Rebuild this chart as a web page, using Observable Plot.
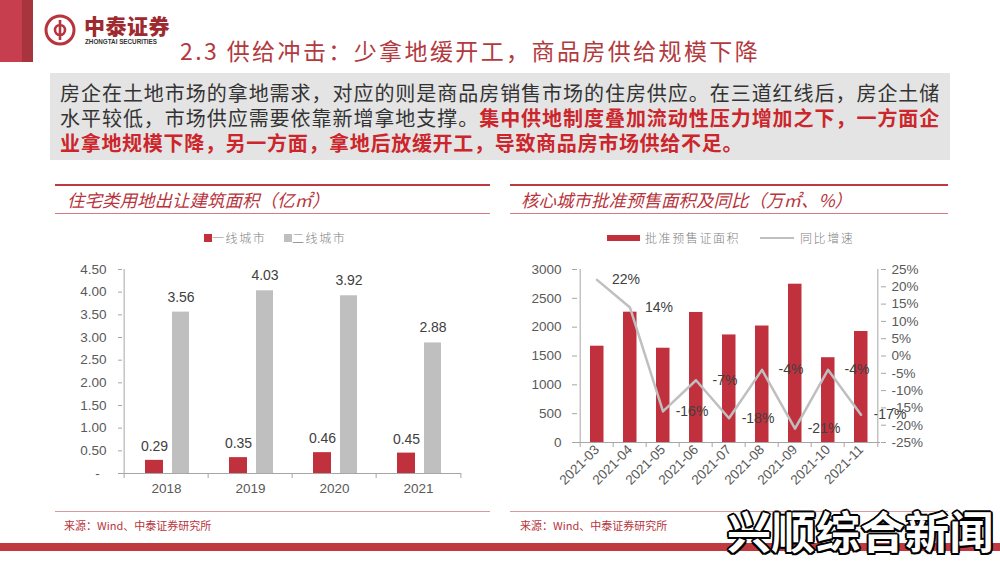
<!DOCTYPE html>
<html><head><meta charset="utf-8">
<script src="https://cdn.jsdelivr.net/npm/d3@7"></script>
<script src="https://cdn.jsdelivr.net/npm/@observablehq/plot@0.6"></script>
<style>
body{margin:0;width:1000px;height:562px;position:relative;overflow:hidden;background:#fff;font-family:"Noto Sans CJK SC",sans-serif;}
.abs{position:absolute;}
.ptitle{position:absolute;font-style:italic;color:#b8343c;font-size:17.5px;line-height:24px;white-space:nowrap;}
.line{position:absolute;}
.leg{position:absolute;font-size:12px;letter-spacing:1.6px;color:#7f7f7f;white-space:nowrap;line-height:16px;font-weight:300;}
.src{position:absolute;font-size:11px;color:#b8343c;white-space:nowrap;line-height:14px;}
.body{position:absolute;left:60px;width:880px;font-size:20px;letter-spacing:0.7px;line-height:25px;color:#333;white-space:nowrap;}
.red{color:#cc262c;font-weight:700;}
.wm{position:absolute;left:727px;top:503px;font-size:44px;font-weight:700;line-height:54px;white-space:nowrap;letter-spacing:0.5px;color:#ffffff;
  text-shadow:2px 0 0 #000,-2px 0 0 #000,0 2px 0 #000,0 -2px 0 #000,1.5px 1.5px 0 #000,-1.5px -1.5px 0 #000,1.5px -1.5px 0 #000,-1.5px 1.5px 0 #000;}
</style></head><body>
<!-- header -->
<div class="abs" style="left:0;top:0;width:22px;height:62px;background:#c73f4e"></div>
<div class="abs" style="left:22px;top:0;width:11px;height:62px;background:#a8343e"></div>
<svg class="abs" style="left:44px;top:14px" width="32" height="32" viewBox="0 0 32 32">
  <circle cx="16" cy="16" r="14" fill="none" stroke="#b8343c" stroke-width="3"/>
  <path d="M16 6 V26 M16 11 a5 5 0 1 0 0 10 M16 11 a5 5 0 1 1 0 10" fill="none" stroke="#b8343c" stroke-width="2.6"/>
</svg>
<div class="abs" style="left:84px;top:12px;font-size:21px;font-weight:900;color:#9e2a30;line-height:26px;letter-spacing:0.5px">中泰证券</div>
<div class="abs" style="left:85px;top:38px;font-size:6.3px;font-weight:700;color:#333;font-family:'Liberation Sans',Arial,sans-serif;line-height:8px;white-space:nowrap">ZHONGTAI SECURITIES</div>
<div class="abs" style="left:180px;top:35px;font-size:23px;letter-spacing:2.4px;color:#b23a3e;line-height:30px;white-space:nowrap">2.3 供给冲击：少拿地缓开工，商品房供给规模下降</div>
<!-- text box -->
<div class="abs" style="left:50px;top:73px;width:900px;height:87px;background:#e4e4e4"></div>
<div class="body" style="top:80px;text-align-last:justify">房企在土地市场的拿地需求，对应的则是商品房销售市场的住房供应。在三道红线后，房企土储</div>
<div class="body" style="top:105px;text-align-last:justify">水平较低，市场供应需要依靠新增拿地支撑。<span class="red">集中供地制度叠加流动性压力增加之下，一方面企</span></div>
<div class="body" style="top:130px"><span class="red">业拿地规模下降，另一方面，拿地后放缓开工，导致商品房市场供给不足。</span></div>
<!-- panels -->
<div class="line" style="left:55px;top:184px;width:435px;height:2px;background:#c0393f"></div>
<div class="line" style="left:55px;top:213px;width:435px;height:1px;background:#d27a7e"></div>
<div class="ptitle" style="left:67px;top:188px">住宅类用地出让建筑面积（亿㎡）</div>
<div class="line" style="left:510px;top:184px;width:438px;height:2px;background:#c0393f"></div>
<div class="line" style="left:510px;top:213px;width:438px;height:1px;background:#d27a7e"></div>
<div class="ptitle" style="left:521px;top:188px">核心城市批准预售面积及同比（万㎡、%）</div>
<!-- legends -->
<div class="abs" style="left:204px;top:234px;width:8px;height:8px;background:#c0313d"></div>
<div class="leg" style="left:212px;top:230px">一线城市</div>
<div class="abs" style="left:284px;top:234px;width:8px;height:8px;background:#bfbfbf"></div>
<div class="leg" style="left:292px;top:230px">二线城市</div>
<div class="abs" style="left:607px;top:235px;width:33px;height:6px;background:#c0313d"></div>
<div class="leg" style="left:645px;top:230px">批准预售证面积</div>
<div class="abs" style="left:760px;top:237px;width:34px;height:2px;background:#bfbfbf"></div>
<div class="leg" style="left:800px;top:230px">同比增速</div>
<div id="chartL" class="abs" style="left:60px;top:250px"></div>
<div id="chartR" class="abs" style="left:505px;top:250px"></div>
<!-- footer -->
<div class="line" style="left:55px;top:511px;width:435px;height:1px;background:#d99a9d"></div>
<div class="line" style="left:510px;top:511px;width:438px;height:1px;background:#d99a9d"></div>
<div class="src" style="left:64px;top:518px">来源：Wind、中泰证券研究所</div>
<div class="src" style="left:520px;top:518px">来源：Wind、中泰证券研究所</div>
<div class="abs" style="left:0;top:543px;width:1000px;height:8px;background:#c0393f"></div>
<div class="wm">兴顺综合新闻</div>
<script>
// ---- data: left chart ----
const years = ["2018", "2019", "2020", "2021"];
const tier1 = [0.29, 0.35, 0.46, 0.45];
const tier2 = [3.56, 4.03, 3.92, 2.88];
const leftTicks = [0, 0.5, 1, 1.5, 2, 2.5, 3, 3.5, 4, 4.5];
// ---- data: right chart ----
const months = ["2021-03", "2021-04", "2021-05", "2021-06", "2021-07", "2021-08", "2021-09", "2021-10", "2021-11"];
const presaleArea = [1670, 2260, 1635, 2255, 1865, 2020, 2745, 1470, 1925];
const yoy = [22, 14, -16, -7, -18, -4, -21, -4, -17];
const areaTicks = [0, 500, 1000, 1500, 2000, 2500, 3000];
const yoyTicks = [-25, -20, -15, -10, -5, 0, 5, 10, 15, 20, 25];

const RED = "#c0313d", GRAY = "#bfbfbf", AX = "#a6a6a6";
const baseStyle = {fontFamily: "'Liberation Sans', Arial, sans-serif", fontSize: "13.5px", color: "#595959", background: "transparent", overflow: "visible"};

// left
const dataL = years.map((y, i) => ({year: y, t1: tier1[i], t2: tier2[i]}));
const WL = 420, HL = 260, mlL = 62, mrL = 19;
const bwL = (WL - mlL - mrL) / years.length;
const chartL = Plot.plot({
  width: WL, height: HL, marginLeft: mlL, marginRight: mrL, marginTop: 19, marginBottom: 37,
  style: baseStyle,
  x: {domain: years, padding: 0, axis: null},
  y: {domain: [0, 4.5], axis: null},
  marks: [
    Plot.barY(dataL, {x: "year", y: "t1", fill: RED, insetLeft: 21, insetRight: 45}),
    Plot.barY(dataL, {x: "year", y: "t2", fill: GRAY, insetLeft: 48, insetRight: 19}),
    Plot.text(dataL, {x: "year", y: "t1", text: d => d.t1.toFixed(2), dx: -12, dy: -14, fill: "#404040", fontSize: 14}),
    Plot.text(dataL, {x: "year", y: "t2", text: d => d.t2.toFixed(2), dx: 14.5, dy: -15, fill: "#404040", fontSize: 14}),
    Plot.ruleY([0], {stroke: AX}),
    Plot.ruleX([years[0]], {dx: -bwL / 2, stroke: AX}),
    Plot.ruleX(years, {dx: -bwL / 2, y1: 0, y2: 0, insetBottom: -5, stroke: AX}),
    Plot.ruleX([years[years.length - 1]], {dx: bwL / 2, y1: 0, y2: 0, insetBottom: -5, stroke: AX}),
    Plot.axisY(leftTicks, {label: null, tickFormat: d => d === 0 ? "-\u2002" : d.toFixed(2), tickSize: 4, tickPadding: 12, stroke: AX, fill: "#595959"}),
    Plot.axisX({label: null, tickSize: 0, tickPadding: 10, fill: "#595959"})
  ]
});
document.getElementById("chartL").append(chartL);

// right
const dataR = months.map((m, i) => ({month: m, area: presaleArea[i], yoy: yoy[i]}));
const toArea = v => (v + 25) / 50 * 3000;
const WR = 445, HR = 260, mlR = 72, mrR = 70;
const bwR = (WR - mlR - mrR) / months.length;
const chartR = Plot.plot({
  width: WR, height: HR, marginLeft: mlR, marginRight: mrR, marginTop: 19, marginBottom: 68,
  style: baseStyle,
  x: {domain: months, padding: 0, axis: null},
  y: {domain: [0, 3000], axis: null},
  marks: [
    Plot.barY(dataR, {x: "month", y: "area", fill: RED, insetLeft: 10, insetRight: 9.5}),
    Plot.line(dataR, {x: "month", y: d => toArea(d.yoy), stroke: GRAY, strokeWidth: 2.5}),
    Plot.text(dataR, {x: "month", y: d => toArea(d.yoy), text: d => d.yoy + "%", dx: 29, fill: "#404040", fontSize: 14}),
    Plot.ruleY([0], {stroke: AX}),
    Plot.ruleX([months[0]], {dx: -bwR / 2, stroke: AX}),
    Plot.ruleX([months[months.length - 1]], {dx: bwR / 2, stroke: AX}),
    Plot.ruleX(months, {dx: -bwR / 2, y1: 0, y2: 0, insetBottom: -5, stroke: AX}),
    Plot.ruleX([months[months.length - 1]], {dx: bwR / 2, y1: 0, y2: 0, insetBottom: -5, stroke: AX}),
    Plot.axisY(areaTicks, {label: null, anchor: "left", tickSize: 5, tickPadding: 11, stroke: AX, fill: "#595959", tickFormat: d => String(d)}),
    Plot.axisY(yoyTicks.map(toArea), {label: null, anchor: "right", tickSize: 5, tickPadding: 6, stroke: AX, fill: "#595959", tickFormat: v => Math.round(v / 3000 * 50 - 25) + "%"}),
    Plot.axisX({label: null, tickRotate: -45, tickSize: 0, tickPadding: 5, fill: "#595959"})
  ]
});
document.getElementById("chartR").append(chartR);
</script>
</body></html>
